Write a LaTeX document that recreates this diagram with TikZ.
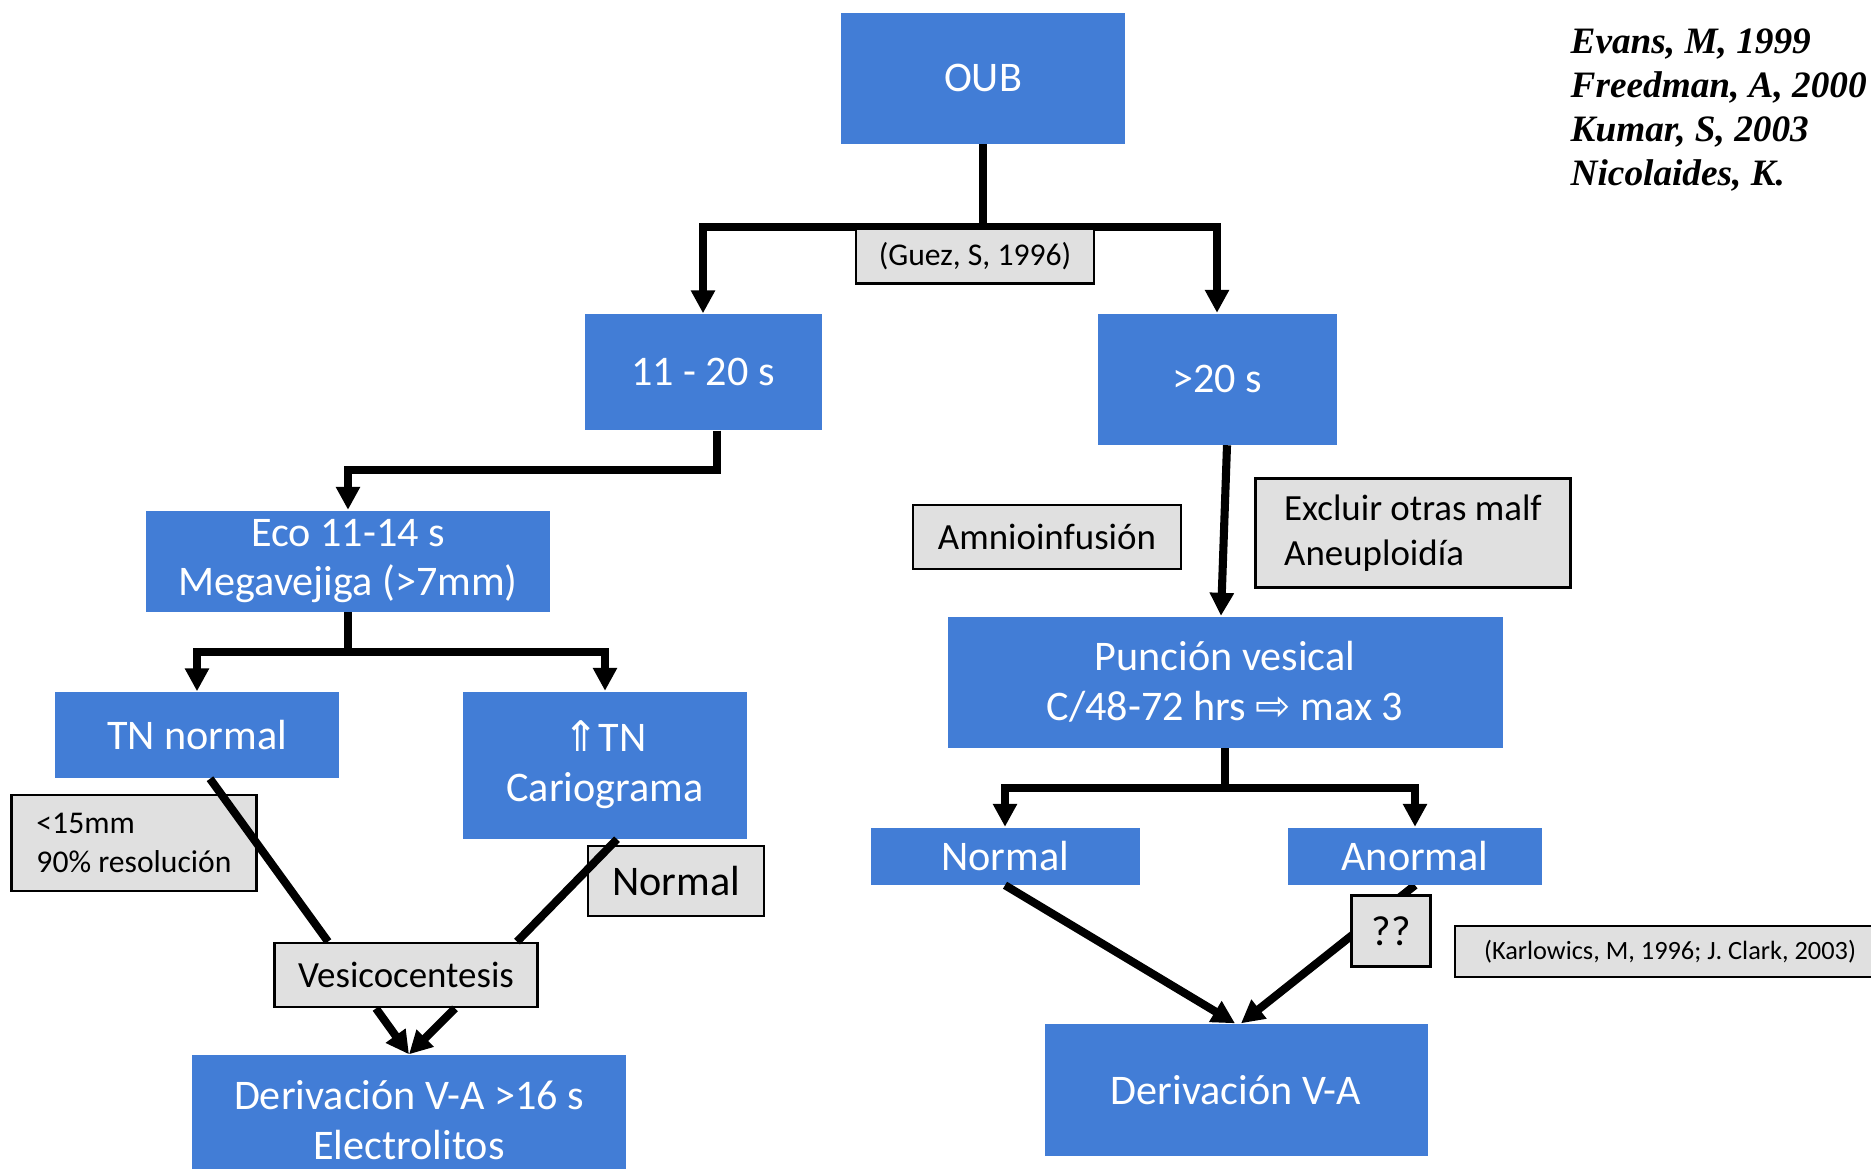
\documentclass[tikz,border=0pt]{standalone}
\usepackage{fontspec}
\setmainfont{Carlito}
\newfontfamily\reffont{Liberation Serif}
\newfontfamily\arrowfont{DejaVu Sans}
\usepackage{xcolor}
\usetikzlibrary{arrows.meta}
\pgfdeclarelayer{bg}
\pgfsetlayers{bg,main}
\definecolor{boxblue}{RGB}{66,125,214}
\definecolor{notegray}{RGB}{224,224,224}
\tikzset{
	blockbox/.style={rectangle, fill=boxblue, text=white, inner sep=0pt, align=center, font=\fontsize{12}{14.2}\selectfont},
	notebox/.style={rectangle, draw=black, line width=0.8pt, fill=notegray, inner sep=0pt, align=center},
	link/.style={line width=2.3pt},
	linkarrow/.style={line width=2.3pt, -{Triangle[length=0.23cm, width=0.23cm]}},
}

\begin{document}
\begin{tikzpicture}
			\useasboundingbox (0,0) rectangle (18.71,-11.68);
			% main blocks
			\node[blockbox, minimum width=2.84cm, minimum height=1.31cm] (oub) at (9.83,-0.78){OUB};
			\node[blockbox, minimum width=2.37cm, minimum height=1.16cm] (early) at (7.03,-3.72){11 - 20 s};
			\node[blockbox, minimum width=2.39cm, minimum height=1.31cm] (late) at (12.17,-3.79){>20 s};
			\node[blockbox, minimum width=4.04cm, minimum height=1.01cm] (eco) at (3.48,-5.61){Eco 11-14 s\\Megavejiga (>7mm)};
			\node[blockbox, minimum width=5.55cm, minimum height=1.31cm] (puncion) at (12.25,-6.82){Punción vesical\\C/48-72 hrs {\arrowfont ⇨} max 3};
			\node[blockbox, minimum width=2.84cm, minimum height=0.86cm] (tnnorm) at (1.97,-7.35){TN normal};
			\node[blockbox, minimum width=2.84cm, minimum height=1.47cm] (tnup) at (6.05,-7.65){{\arrowfont ⇑}TN\\Cariograma};
			\node[blockbox, minimum width=2.69cm, minimum height=0.57cm] (normal) at (10.05,-8.56){Normal};
			\node[blockbox, minimum width=2.54cm, minimum height=0.57cm] (anormal) at (14.15,-8.56){Anormal};
			\node[blockbox, minimum width=4.34cm, minimum height=1.31cm] (derivA) at (4.09,-11.205){Derivación V-A >16 s\\Electrolitos};
			\node[blockbox, minimum width=3.83cm, minimum height=1.32cm] (derivB) at (12.36,-10.90){Derivación V-A};
			% notes
			\node[notebox, minimum width=2.68cm, minimum height=0.64cm, font=\fontsize{10.5}{12.6}\selectfont] (amnio) at (10.47,-5.37){Amnioinfusión};
			\node[notebox, minimum width=3.15cm, minimum height=1.09cm, align=left, font=\fontsize{10.5}{12.6}\selectfont] (excluir) at (14.13,-5.33){Excluir otras malf\\Aneuploidía};
			\node[notebox, minimum width=2.45cm, minimum height=0.96cm, align=left, font=\fontsize{9}{11}\selectfont] (menor) at (1.34,-8.43){<15mm\\90\% resolución};
			\node[notebox, minimum width=1.76cm, minimum height=0.70cm, font=\fontsize{12}{14}\selectfont] (normgris) at (6.76,-8.81){Normal};
			\node[notebox, minimum width=2.63cm, minimum height=0.64cm, font=\fontsize{10.5}{12.6}\selectfont] (vesico) at (4.06,-9.75){Vesicocentesis};
			\node[notebox, minimum width=4.30cm, minimum height=0.51cm, font=\fontsize{7.5}{9}\selectfont] (karlo) at (16.70,-9.515){(Karlowics, M, 1996; J. Clark, 2003)};
			\node[anchor=north west, inner sep=0pt, align=left, font=\reffont\fontsize{10.6}{12.5}\selectfont\bfseries\itshape] (refs) at (15.70,-0.28){Evans, M, 1999\\Freedman, A, 2000\\Kumar, S, 2003\\Nicolaides, K.};
			\coordinate (bar1) at (9.83,-2.27);
			\coordinate (bar2) at (3.48,-4.70);
			\coordinate (bar3) at (3.48,-6.52);
			\coordinate (bar4) at (12.25,-7.88);
			\begin{pgfonlayer}{bg}
				\draw[link] (oub.south) -- (bar1);
				\draw[linkarrow] (bar1) -| (early.north);
				\draw[linkarrow] (bar1) -| (late.north);
				\draw[linkarrow] (anormal.south) -- ([xshift=0.05cm]derivB.north);
			\end{pgfonlayer}
			\node[notebox, minimum width=2.38cm, minimum height=0.55cm, font=\fontsize{9}{11}\selectfont] (guez) at (9.75,-2.56){(Guez, S, 1996)};
			\node[notebox, minimum width=0.79cm, minimum height=0.71cm, font=\fontsize{12}{14}\selectfont] (dudas) at (13.91,-9.31){??};
			\draw[linkarrow] ([xshift=0.14cm]early.south) |- (bar2) -- (eco.north);
			\draw[link] (eco.south) -- (bar3);
			\draw[linkarrow] (bar3) -| (tnnorm.north);
			\draw[linkarrow] (bar3) -| (tnup.north);
			\draw[linkarrow] ([xshift=0.10cm]late.south) -- ([xshift=-0.04cm]puncion.north);
			\draw[link] (puncion.south) -- (bar4);
			\draw[linkarrow] (bar4) -| (normal.north);
			\draw[linkarrow] (bar4) -| (anormal.north);
			\draw[link] ([xshift=0.13cm]tnnorm.south) -- ([xshift=-0.78cm]vesico.north);
			\draw[link] ([xshift=0.12cm]tnup.south) -- ([xshift=1.11cm]vesico.north);
			\draw[linkarrow] ([xshift=-0.30cm]vesico.south) -- (derivA.north);
			\draw[linkarrow] ([xshift=0.49cm]vesico.south) -- (derivA.north);
			\draw[linkarrow] (normal.south) -- ([xshift=-0.01cm]derivB.north);

		\end{tikzpicture}
\end{document}
